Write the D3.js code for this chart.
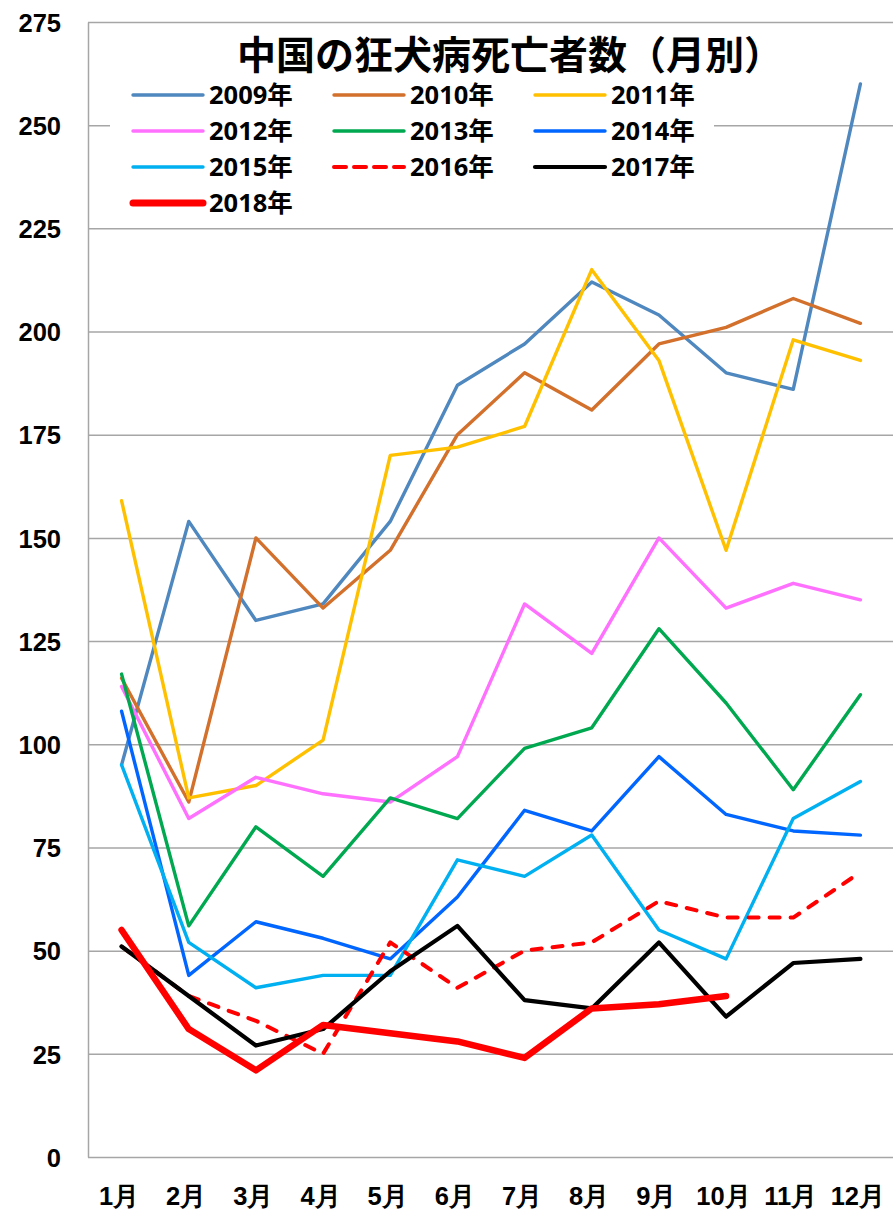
<!DOCTYPE html>
<html lang="ja">
<head>
    <meta charset="UTF-8">
    <title>中国の狂犬病死亡者数（月別）</title>
    <script src="https://d3js.org/d3.v7.min.js"></script>
    <style>
        body { margin: 0; background: #fff; }
        svg { font-family: "Open Sans", "Noto Sans CJK JP", sans-serif; font-weight: bold; }
        .grid line { stroke: #a6a6a6; stroke-width: 1.5; }
        .grid .domain { stroke: #a6a6a6; stroke-width: 1.5; }
        .axis text { fill: #000; font-size: 25.5px; font-weight: bold; }
    </style>
</head>
<body>
    <svg width="893" height="1210"></svg>
    <script>
        // months and y ticks
        const months = ["1月", "2月", "3月", "4月", "5月", "6月", "7月", "8月", "9月", "10月", "11月", "12月"];
        const yTicks = [0, 25, 50, 75, 100, 125, 150, 175, 200, 225, 250, 275];

        // deaths per month
        const y2009 = [95, 154, 130, 134, 154, 187, 197, 212, 204, 190, 186, 260];
        const y2010 = [116, 86, 150, 133, 147, 175, 190, 181, 197, 201, 208, 202];
        const y2011 = [159, 87, 90, 101, 170, 172, 177, 215, 193, 147, 198, 193];
        const y2012 = [114, 82, 92, 88, 86, 97, 134, 122, 150, 133, 139, 135];
        const y2013 = [117, 56, 80, 68, 87, 82, 99, 104, 128, 110, 89, 112];
        const y2014 = [108, 44, 57, 53, 48, 63, 84, 79, 97, 83, 79, 78];
        const y2015 = [95, 52, 41, 44, 44, 72, 68, 78, 55, 48, 82, 91];
        const y2016 = [51, 39, 33, 25, 52, 41, 50, 52, 62, 58, 58, 69];
        const y2017 = [51, 39, 27, 31, 45, 56, 38, 36, 52, 34, 47, 48];
        const y2018 = [55, 31, 21, 32, 30, 28, 24, 36, 37, 39];

        const series = [
            {name: "2009年", values: y2009, color: "#4f87bf", width: 3.4},
            {name: "2010年", values: y2010, color: "#d2702c", width: 3.4},
            {name: "2011年", values: y2011, color: "#ffc000", width: 3.4},
            {name: "2012年", values: y2012, color: "#ff70ff", width: 3.4},
            {name: "2013年", values: y2013, color: "#00a850", width: 3.4},
            {name: "2014年", values: y2014, color: "#0066ff", width: 3.4},
            {name: "2015年", values: y2015, color: "#00b0f0", width: 3.4},
            {name: "2016年", values: y2016, color: "#ff0000", width: 4, dash: "10,11"},
            {name: "2017年", values: y2017, color: "#000000", width: 4.2},
            {name: "2018年", values: y2018, color: "#ff0000", width: 6.5}
        ];

        const svg = d3.select("svg"),
              margin = {top: 22, right: -1, bottom: 53, left: 88},
              width = +svg.attr("width") - margin.left - margin.right,
              height = +svg.attr("height") - margin.top - margin.bottom;

        const x = d3.scaleBand().domain(months).range([0, width]);
        const y = d3.scaleLinear().domain([0, 275]).range([height, 0]);

        const g = svg.append("g")
                     .attr("transform", `translate(${margin.left},${margin.top})`);

        // gridlines + y labels
        g.append("g")
         .attr("class", "grid axis")
         .call(d3.axisLeft(y).tickValues(yTicks).tickSize(-width).tickSizeOuter(0).tickPadding(27))
         .selectAll("text")
         .attr("dy", "0.36em");

        g.append("g")
         .attr("class", "axis")
         .attr("transform", `translate(0,${height})`)
         .call(d3.axisBottom(x).tickSize(0).tickPadding(30))
         .call(a => a.select(".domain").remove())
         .selectAll("text")
         .attr("dx", "-0.1em");

        const line = d3.line()
                       .x((d, i) => x(months[i]) + x.bandwidth() / 2)
                       .y(d => y(d));

        // legend (white box hides the gridline behind it)
        const legend = svg.append("g");
        legend.append("rect")
              .attr("x", 110).attr("y", 78)
              .attr("width", 604).attr("height", 142)
              .attr("fill", "#fff");

        g.selectAll(".series")
         .data(series)
         .enter().append("path")
         .attr("class", "series")
         .attr("d", d => line(d.values))
         .attr("fill", "none")
         .attr("stroke", d => d.color)
         .attr("stroke-width", d => d.width)
         .attr("stroke-dasharray", d => d.dash || null)
         .attr("stroke-linejoin", "round")
         .attr("stroke-linecap", "round");

        const item = legend.selectAll(".item")
              .data(series)
              .enter().append("g")
              .attr("class", "item")
              .attr("transform", (d, i) => `translate(${133 + (i % 3) * 201},${95 + Math.floor(i / 3) * 36})`);

        item.append("line")
            .attr("x1", 0).attr("x2", 70)
            .attr("stroke", d => d.color)
            .attr("stroke-width", d => d.width === 6.5 ? 7 : d.width)
            .attr("stroke-dasharray", d => d.dash ? "12,8" : null)
            .attr("stroke-linecap", "round");

        item.append("text")
            .attr("x", 76)
            .attr("dy", "0.36em")
            .attr("font-size", 25.5)
            .text(d => d.name);

        svg.append("text")
           .attr("x", 510)
           .attr("y", 52)
           .attr("text-anchor", "middle")
           .attr("dominant-baseline", "central")
           .attr("font-family", "Noto Sans CJK JP")
           .attr("font-size", 39)
           .attr("font-weight", "bold")
           .text("中国の狂犬病死亡者数（月別）");
    </script>
</body>
</html>
